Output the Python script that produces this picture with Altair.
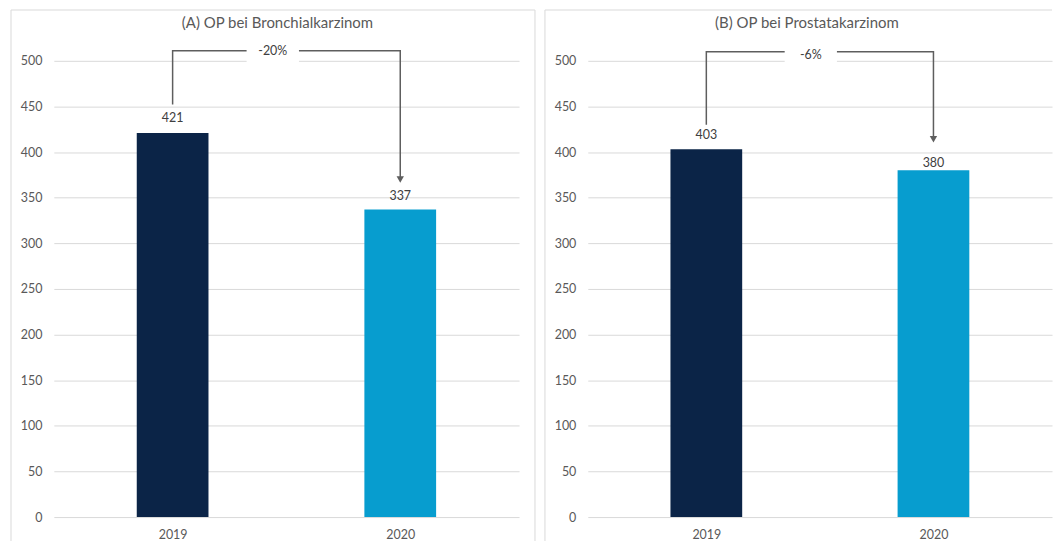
import altair as alt
import pandas as pd

# ---- data ----
years = ["2019", "2020"]
titles = ["(A) OP bei Bronchialkarzinom", "(B) OP bei Prostatakarzinom"]
bronch_values = [421, 337]
prost_values = [403, 380]
bronch_label_y = [437, 352]
prost_label_y = [419, 388]
changes = ["-20%", "-6%"]
bracket_start = [452, 430]   # where the bracket leaves the 2019 label
bracket_top = [511, 510]     # level of the horizontal bracket
arrow_y = [370, 414]         # arrow head above the 2020 label
change_label_x = [0.44, 0.46]
change_label_y = [511, 506]
y_ticks = list(range(0, 501, 50))

bar_colors = ["#0b2447", "#079dcf"]
FONT = "Lato"
GRAY = "#595959"
DARK = "#404040"
LINE = "#5e5e5e"
GRID = "#d9d9d9"
GAP = 0.115

XSCALE = alt.Scale(domain=[-0.5, 1.5], nice=False, zero=False)
YSCALE = alt.Scale(domain=[0, 500], nice=False)
LABEL_EXPR = "[" + ",".join("'%s'" % y for y in years) + "][datum.value]"
X_AXIS = alt.Axis(values=[0, 1], labelExpr=LABEL_EXPR, title=None,
                  grid=False, domain=False, ticks=False,
                  labelPadding=12, labelColor=GRAY, labelFontSize=12.5,
                  labelFont=FONT)
Y_AXIS = alt.Axis(values=y_ticks, title=None, domain=False, ticks=False,
                  gridColor=GRID, labelPadding=12, labelColor=GRAY,
                  labelFontSize=12.5, labelFont=FONT)


def X(f):
    return alt.X(f, scale=XSCALE, axis=X_AXIS, title=None)


def Y(f):
    return alt.Y(f, scale=YSCALE, axis=Y_AXIS, title=None, stack=None)


def panel(title, values, label_y, change, i, width, height, dx, right_frame):
    df = pd.DataFrame({"x": [0, 1], "v": values, "year": years, "ly": label_y})

    bars = alt.Chart(df).mark_bar(size=72, orient="vertical").encode(
        x=X("x:Q"), y=Y("v:Q"),
        color=alt.Color("year:N", scale=alt.Scale(domain=years, range=bar_colors),
                        legend=None),
    )
    labels = alt.Chart(df).mark_text(baseline="middle", fontSize=12.5, color=DARK,
                                     font=FONT).encode(
        x=X("x:Q"), y=Y("ly:Q"), text="v:Q",
    )

    lx = change_label_x[i]
    seg = pd.DataFrame({
        "x": [0, 0, lx - GAP, lx + GAP, 1, 1],
        "y": [bracket_start[i], bracket_top[i], bracket_top[i],
              bracket_top[i], bracket_top[i], arrow_y[i]],
        "seg": [0, 0, 0, 1, 1, 1],
        "o": [0, 1, 2, 3, 4, 5],
    })
    mask = alt.Chart(pd.DataFrame({"x": [lx - GAP], "x2": [lx + GAP],
                                   "y": [498], "y2": [523]})).mark_rect(
        color="white").encode(
        x=X("x:Q"), x2="x2:Q", y=Y("y:Q"), y2="y2:Q",
    )
    bracket = alt.Chart(seg).mark_line(color=LINE, strokeWidth=1.5).encode(
        x=X("x:Q"), y=Y("y:Q"), detail="seg:N", order="o:Q",
    )
    arrow = alt.Chart(pd.DataFrame({"x": [1], "y": [arrow_y[i]]})).mark_point(
        shape="triangle-down", filled=True, size=55, color=LINE, opacity=1).encode(
        x=X("x:Q"), y=Y("y:Q"),
    )
    ctext = alt.Chart(pd.DataFrame({"x": [lx], "y": [change_label_y[i]],
                                    "t": [change]})).mark_text(
        baseline="middle", fontSize=12.5, color=DARK, font=FONT).encode(
        x=X("x:Q"), y=Y("y:Q"), text="t:N",
    )

    one = alt.Data(values=[{}])
    ttl = alt.Chart(alt.Data(values=[{"t": title}])).mark_text(
        fontSize=15, color=GRAY, font=FONT, baseline="middle").encode(
        x=alt.value(width / 2 + dx), y=alt.value(-38), text="t:N")
    frame_left = alt.Chart(one).mark_rule(color=GRID, strokeWidth=1).encode(
        x=alt.value(-43), y=alt.value(-51), y2=alt.value(height + 24))
    frame_top = alt.Chart(one).mark_rule(color=GRID, strokeWidth=1).encode(
        x=alt.value(-43), x2=alt.value(width + 16 if right_frame else width),
        y=alt.value(-51))
    layers = [bars, frame_left, frame_top]
    if right_frame:
        layers.append(alt.Chart(one).mark_rule(color=GRID, strokeWidth=1).encode(
            x=alt.value(width + 16), y=alt.value(-51), y2=alt.value(height + 24)))
    layers += [labels, mask, bracket, arrow, ctext, ttl]

    return alt.layer(*layers).properties(width=width, height=height)


left = panel(titles[0], bronch_values, bronch_label_y, changes[0], 0, 467, 458, -9, True)
right = panel(titles[1], prost_values, prost_label_y, changes[1], 1, 466, 458, -13, False)

chart = alt.hconcat(left, right, spacing=8).properties(
    padding={"left": 2, "top": 0, "right": 0, "bottom": 0}
).configure_view(stroke=None)

chart.save("out.html", embed_options={"renderer": "svg", "actions": False})
